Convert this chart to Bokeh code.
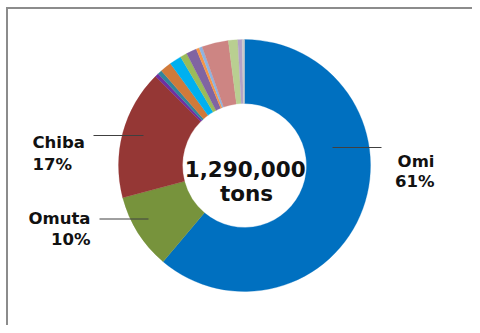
import numpy as np
from bokeh.plotting import figure
from bokeh.models import Range1d, ColumnDataSource
from bokeh.core.properties import value
from bokeh.embed import file_html
from bokeh.resources import INLINE

# ---- data (clockwise from 12 o'clock) ----
names = ["Omi", "Omuta", "Chiba", "Other 1", "Other 2", "Other 3", "Other 4",
         "Other 5", "Other 6", "Other 7", "Other 8", "Other 9", "Other 10",
         "Other 11", "Other 12"]
shares = [61.1, 9.7, 16.6, 0.47, 0.55, 1.45, 1.55, 0.87, 1.33, 0.4, 0.4,
          3.4, 1.2, 0.55, 0.3]
colors = ["#0070C0", "#77933C", "#953735", "#7030A0", "#31859C", "#D07A3A",
          "#00B0F0", "#9BBB59", "#8064A2", "#F79646", "#8DB4E2", "#CD8583",
          "#B9CF91", "#B3A2C7", "#C9C9C9"]
total_label = ["1,290,000", "tons"]
labelled = ["Omi", "Omuta", "Chiba"]

# ---- layout ----
W, H = 472, 325
CX, CY = 244, 160
R_OUT, R_IN = 126, 62
FONT = value("DejaVu Sans")

p = figure(width=W, height=H, output_backend="svg", toolbar_location=None,
           x_range=Range1d(0, W), y_range=Range1d(0, H),
           min_border=0, tools="")
p.xaxis.visible = False
p.yaxis.visible = False
p.grid.visible = False
p.outline_line_color = None
p.background_fill_color = "white"
p.border_fill_color = "white"

vals = np.array(shares, dtype=float)
frac = vals / vals.sum()
c1 = np.cumsum(frac)
c0 = c1 - frac
start = np.pi / 2 - 2 * np.pi * c1
end = np.pi / 2 - 2 * np.pi * c0
src = ColumnDataSource(dict(start=start, end=end, color=colors, name=names))
p.annular_wedge(x=CX, y=CY, inner_radius=R_IN, outer_radius=R_OUT,
                start_angle="start", end_angle="end", fill_color="color",
                line_color="color", line_width=0.3, source=src)

# chart border (left and top visible)
p.line(x=[6.5, 6.5], y=[-5, 317.5], line_color="#8C8C8C", line_width=2)
p.line(x=[5.5, W + 5], y=[317.5, 317.5], line_color="#8C8C8C", line_width=2)

# leader lines: (x0, x1, y)
leaders = {"Omi": (332, 381, 178), "Chiba": (93, 143, 190), "Omuta": (99, 148, 106.5)}
# label anchors: (x, y_name, y_pct, align)
anchors = {"Omi": (434, 164, 144, "right"),
           "Chiba": (32, 182.7, 161, "left"),
           "Omuta": (90, 106.7, 86, "right")}

for nm in labelled:
    i = names.index(nm)
    pct = f"{round(frac[i] * 100):d}%"
    x0, x1, ly = leaders[nm]
    p.line(x=[x0, x1], y=[ly, ly], line_color="#404040", line_width=1)
    ax, yn, yp, al = anchors[nm]
    p.text(x=[ax, ax], y=[yn, yp], text=[nm, pct], text_font=FONT,
           text_font_style="bold", text_font_size="16.5px", text_color="#111111",
           text_align=al, text_baseline="alphabetic")

p.text(x=[244.7], y=[156.7], text=[total_label[0]], text_font=FONT,
       text_font_style="bold", text_font_size="21.5px", text_color="#111111",
       text_align="center", text_baseline="alphabetic")
p.text(x=[246], y=[131.7], text=[total_label[1]], text_font=FONT,
       text_font_style="bold", text_font_size="21.5px", text_color="#111111",
       text_align="center", text_baseline="alphabetic")

open("out.html", "w").write(file_html(p, INLINE))
